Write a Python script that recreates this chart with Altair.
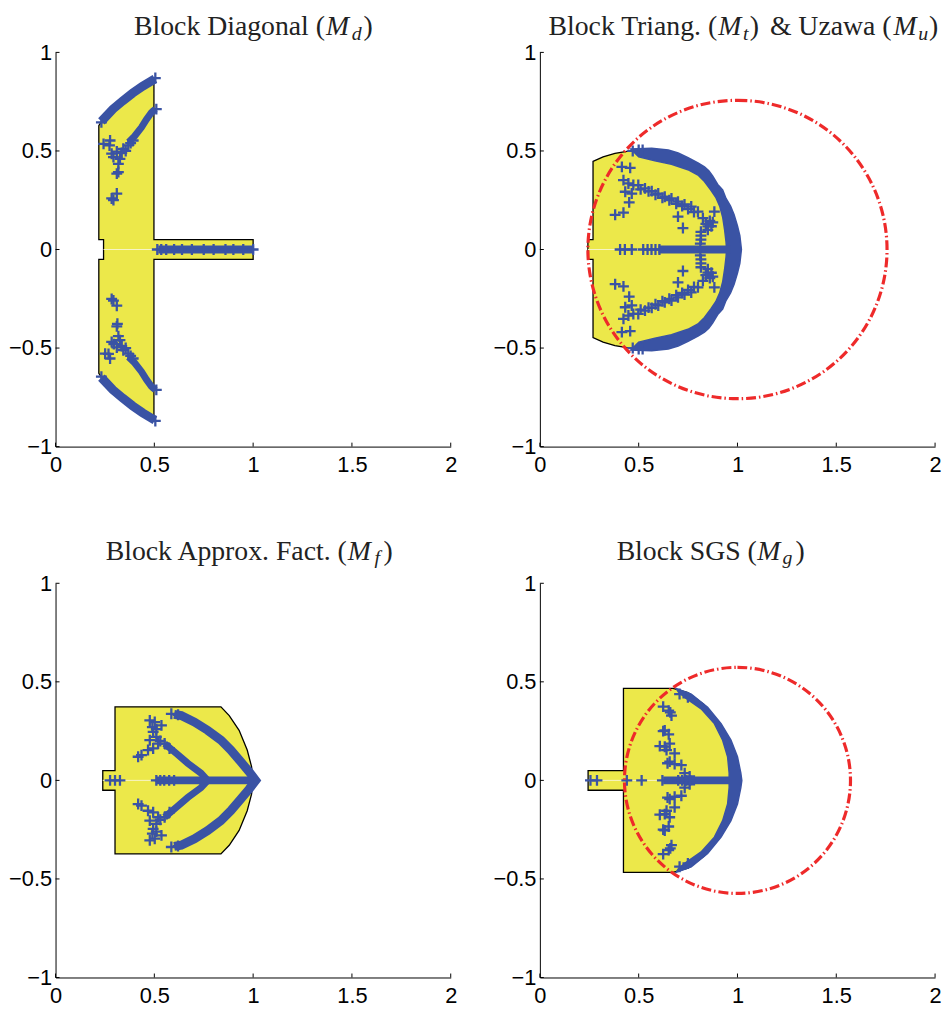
import altair as alt
import pandas as pd

W, H = 399, 398
BLUE = "#3a53a4"
YELLOW = "#ece84a"
RED = "#ee2a2a"
SEAM = "#f7f4c6"
SERIF = "Liberation Serif"
SANS = "Liberation Sans"

X_TICKS = [0, 0.5, 1, 1.5, 2]
Y_TICKS = [-1, -0.5, 0, 0.5, 1]
X_DOMAIN = [0, 2]
Y_DOMAIN = [-1, 1]

# ---------------- Block Diagonal (M_d) ----------------
md_region_x = [0.219, 0.24, 0.29, 0.34, 0.39, 0.44, 0.498, 0.498, 1.0, 1.0, 0.498, 0.498,
               0.44, 0.39, 0.34, 0.29, 0.24, 0.219, 0.219, 0.243, 0.243, 0.219]
md_region_y = [0.628, 0.66, 0.712, 0.754, 0.793, 0.828, 0.868, 0.05, 0.05, -0.05, -0.05, -0.868,
               -0.828, -0.793, -0.754, -0.712, -0.66, -0.628, -0.05, -0.05, 0.05, 0.05]
md_outer_up_x = [0.232, 0.29, 0.34, 0.39, 0.44, 0.503]
md_outer_up_y = [0.650, 0.712, 0.754, 0.793, 0.828, 0.866]
md_outer_lo_x = [0.232, 0.29, 0.34, 0.39, 0.44, 0.503]
md_outer_lo_y = [-0.650, -0.712, -0.754, -0.793, -0.828, -0.866]
md_inner_up_x = [0.37, 0.40, 0.435, 0.46, 0.485, 0.505]
md_inner_up_y = [0.545, 0.575, 0.62, 0.66, 0.695, 0.712]
md_inner_lo_x = [0.37, 0.40, 0.435, 0.46, 0.485, 0.505]
md_inner_lo_y = [-0.545, -0.575, -0.62, -0.66, -0.695, -0.712]
md_axis_x = [0.52, 1.005]
md_pts_x = [0.232, 0.243, 0.276, 0.273, 0.284, 0.31, 0.293, 0.326, 0.318, 0.318, 0.31, 0.31, 0.284,
            0.293, 0.343, 0.368, 0.38, 0.393, 0.335, 0.355, 0.505, 0.51,
            0.232, 0.251, 0.276, 0.268, 0.284, 0.31, 0.295, 0.326, 0.318, 0.313, 0.31, 0.31, 0.284,
            0.293, 0.343, 0.368, 0.38, 0.393, 0.335, 0.355, 0.505, 0.51,
            0.515, 0.535, 0.56, 0.6, 0.64, 0.69, 0.75, 0.8, 0.86, 0.9, 0.95, 1.0]
md_pts_y = [0.645, 0.536, 0.553, 0.528, 0.486, 0.497, 0.469, 0.46, 0.435, 0.393, 0.385, 0.284, 0.259,
            0.251, 0.511, 0.528, 0.54, 0.553, 0.49, 0.50, 0.87, 0.712,
            -0.645, -0.528, -0.553, -0.53, -0.469, -0.497, -0.48, -0.46, -0.44, -0.377, -0.39, -0.285,
            -0.251, -0.259, -0.511, -0.528, -0.54, -0.553, -0.49, -0.50, -0.87, -0.712,
            0, 0, 0, 0, 0, 0, 0, 0, 0, 0, 0, 0]
md_seam_x = [0.243, 0.52]

# ---------------- Block Triang. (M_t) & Uzawa (M_u) ----------------
mt_region_x = [0.269, 0.32, 0.38, 0.44, 0.50, 0.60, 0.70, 0.80, 0.88, 0.93, 0.96, 0.98, 0.985,
               0.98, 0.96, 0.93, 0.88, 0.80, 0.70, 0.60, 0.50, 0.44, 0.38, 0.32, 0.269,
               0.269, 0.243, 0.243, 0.269]
mt_region_y = [0.447, 0.47, 0.488, 0.498, 0.505, 0.49, 0.46, 0.41, 0.33, 0.24, 0.14, 0.05, 0.0,
               -0.05, -0.14, -0.24, -0.33, -0.41, -0.46, -0.49, -0.505, -0.498, -0.488, -0.47, -0.447,
               -0.05, -0.05, 0.05, 0.05]
mt_band_x = [0.46, 0.566, 0.65, 0.70, 0.75, 0.80, 0.833, 0.855, 0.875, 0.90, 0.925, 0.942, 0.965,
             0.983, 1.0, 1.012, 1.02,
             1.012, 1.0, 0.983, 0.965, 0.942, 0.925, 0.90, 0.875, 0.855, 0.833, 0.80, 0.75, 0.70,
             0.65, 0.566, 0.46,
             0.50, 0.582, 0.666, 0.749, 0.80, 0.833, 0.866, 0.89, 0.91, 0.925, 0.935, 0.942, 0.945,
             0.942, 0.935, 0.925, 0.91, 0.89, 0.866, 0.833, 0.80, 0.749, 0.666, 0.582, 0.50]
mt_band_y = [0.51, 0.514, 0.505, 0.49, 0.466, 0.44, 0.419, 0.40, 0.372, 0.33, 0.302, 0.259, 0.22,
             0.176, 0.12, 0.07, 0.0,
             -0.07, -0.12, -0.176, -0.22, -0.259, -0.302, -0.33, -0.372, -0.40, -0.419, -0.44, -0.466,
             -0.49, -0.505, -0.514, -0.51,
             -0.47, -0.45, -0.432, -0.405, -0.378, -0.345, -0.30, -0.265, -0.22, -0.165, -0.10,
             -0.04, 0.0,
             0.04, 0.10, 0.165, 0.22, 0.265, 0.30, 0.345, 0.378, 0.405, 0.432, 0.45, 0.47]
mt_axis_x = [0.60, 0.965]
mt_pts_x = [0.415, 0.457, 0.423, 0.448, 0.473, 0.432, 0.465, 0.452, 0.381, 0.423, 0.699, 0.724,
            0.498, 0.532, 0.566, 0.599, 0.632, 0.666, 0.699, 0.732, 0.766, 0.80, 0.825, 0.85,
            0.51, 0.55, 0.585, 0.62, 0.655, 0.69, 0.72, 0.75, 0.78,
            0.84, 0.86, 0.875, 0.868, 0.85, 0.815, 0.815, 0.815, 0.812, 0.883, 0.47, 0.50, 0.52,
            0.415, 0.457, 0.423, 0.448, 0.473, 0.432, 0.465, 0.452, 0.381, 0.423, 0.699, 0.724,
            0.498, 0.532, 0.566, 0.599, 0.632, 0.666, 0.699, 0.732, 0.766, 0.80, 0.825, 0.85,
            0.51, 0.55, 0.585, 0.62, 0.655, 0.69, 0.72, 0.75, 0.78,
            0.84, 0.86, 0.875, 0.868, 0.85, 0.815, 0.815, 0.815, 0.812, 0.883, 0.47, 0.50, 0.52,
            0.406, 0.43, 0.465, 0.523, 0.545, 0.565, 0.585, 0.605]
mt_pts_y = [0.419, 0.414, 0.352, 0.335, 0.327, 0.293, 0.284, 0.239, 0.176, 0.187, 0.167, 0.109,
            0.327, 0.31, 0.296, 0.284, 0.268, 0.259, 0.243, 0.229, 0.218, 0.192, 0.159, 0.117,
            0.305, 0.295, 0.278, 0.262, 0.25, 0.232, 0.22, 0.205, 0.19,
            0.13, 0.145, 0.138, 0.118, 0.10, 0.09, 0.07, 0.05, 0.03, 0.192, 0.50, 0.505, 0.505,
            -0.419, -0.414, -0.352, -0.335, -0.327, -0.293, -0.284, -0.239, -0.176, -0.187, -0.167,
            -0.109,
            -0.327, -0.31, -0.296, -0.284, -0.268, -0.259, -0.243, -0.229, -0.218, -0.192, -0.159,
            -0.117,
            -0.305, -0.295, -0.278, -0.262, -0.25, -0.232, -0.22, -0.205, -0.19,
            -0.13, -0.145, -0.138, -0.118, -0.10, -0.09, -0.07, -0.05, -0.03, -0.192, -0.50, -0.505,
            -0.505,
            0, 0, 0, 0, 0, 0, 0, 0]
mt_seam_x = [0.243, 0.60]
mt_circle = [1.0, 0.0, 0.755]   # centre x, centre y, radius

# ---------------- Block Approx. Fact. (M_f) ----------------
mf_region_x = [0.301, 0.837, 0.879, 0.929, 0.97, 0.992, 1.0, 0.992, 0.97, 0.929, 0.879, 0.837,
               0.301, 0.301, 0.239, 0.239, 0.301]
mf_region_y = [0.373, 0.373, 0.329, 0.254, 0.154, 0.07, 0.0, -0.07, -0.154, -0.254, -0.329, -0.373,
               -0.373, -0.05, -0.05, 0.05, 0.05]
mf_outer_x = [0.60, 0.636, 0.703, 0.77, 0.837, 0.887, 0.937, 0.979, 1.013,
              0.979, 0.937, 0.887, 0.837, 0.77, 0.703, 0.636, 0.60]
mf_outer_y = [0.335, 0.329, 0.296, 0.254, 0.204, 0.154, 0.095, 0.045, 0.0,
              -0.045, -0.095, -0.154, -0.204, -0.254, -0.296, -0.329, -0.335]
mf_inner_x = [0.552, 0.611, 0.669, 0.736, 0.77, 0.736, 0.669, 0.611, 0.552]
mf_inner_y = [0.187, 0.137, 0.087, 0.037, 0.0, -0.037, -0.087, -0.137, -0.187]
mf_axis_x = [0.51, 1.0]
mf_pts_x = [0.586, 0.62, 0.477, 0.502, 0.536, 0.494, 0.477, 0.51, 0.519, 0.418, 0.435, 0.468, 0.494,
            0.552, 0.577, 0.53, 0.49, 0.51,
            0.586, 0.62, 0.477, 0.502, 0.536, 0.494, 0.477, 0.51, 0.519, 0.418, 0.435, 0.468, 0.494,
            0.552, 0.577, 0.53, 0.49, 0.51,
            0.276, 0.301, 0.326, 0.51, 0.53, 0.55, 0.575, 0.6]
mf_pts_y = [0.338, 0.333, 0.304, 0.296, 0.279, 0.246, 0.204, 0.221, 0.187, 0.12, 0.128, 0.154, 0.162,
            0.187, 0.162, 0.2, 0.27, 0.26,
            -0.338, -0.333, -0.304, -0.296, -0.279, -0.246, -0.204, -0.221, -0.187, -0.12, -0.128,
            -0.154, -0.162, -0.187, -0.162, -0.2, -0.27, -0.26,
            0, 0, 0, 0, 0, 0, 0, 0]
mf_seam_x = [0.239, 0.51]

# ---------------- Block SGS (M_g) ----------------
mg_region_x = [0.423, 0.674, 0.75, 0.83, 0.895, 0.945, 0.98, 0.99, 0.98, 0.945, 0.895, 0.83, 0.75,
               0.674, 0.423, 0.423, 0.244, 0.244, 0.423]
mg_region_y = [0.467, 0.467, 0.445, 0.385, 0.30, 0.21, 0.11, 0.0, -0.11, -0.21, -0.30, -0.385,
               -0.445, -0.467, -0.467, -0.05, -0.05, 0.05, 0.05]
mg_band_x = [0.69, 0.766, 0.849, 0.917, 0.967, 1.0, 1.017, 1.022,
             1.017, 1.0, 0.967, 0.917, 0.849, 0.766, 0.69,
             0.70, 0.733, 0.816, 0.883, 0.925, 0.95, 0.958, 0.958,
             0.958, 0.95, 0.925, 0.883, 0.816, 0.733, 0.70]
mg_band_y = [0.466, 0.438, 0.371, 0.288, 0.204, 0.12, 0.037, 0.0,
             -0.037, -0.12, -0.204, -0.288, -0.371, -0.438, -0.466,
             -0.45, -0.421, -0.363, -0.288, -0.204, -0.12, -0.037, 0.0,
             0.037, 0.12, 0.204, 0.288, 0.363, 0.421, 0.45]
mg_axis_x = [0.624, 0.96]
mg_pts_x = [0.624, 0.652, 0.666, 0.66, 0.632, 0.652, 0.624, 0.607, 0.641, 0.682, 0.632, 0.657,
            0.646, 0.682, 0.716, 0.657, 0.733, 0.758, 0.707, 0.749,
            0.624, 0.652, 0.666, 0.66, 0.632, 0.652, 0.624, 0.607, 0.641, 0.682, 0.632, 0.657,
            0.646, 0.682, 0.716, 0.657, 0.733, 0.758, 0.707, 0.749,
            0.256, 0.289, 0.44, 0.515, 0.62, 0.70, 0.72, 0.74, 0.76]
mg_pts_y = [0.374, 0.354, 0.329, 0.345, 0.254, 0.234, 0.25, 0.174, 0.154, 0.137, 0.171, 0.187,
            0.087, 0.083, 0.078, 0.095, 0.037, 0.02, 0.438, 0.421,
            -0.374, -0.354, -0.329, -0.345, -0.254, -0.234, -0.25, -0.174, -0.154, -0.137, -0.171,
            -0.187, -0.087, -0.083, -0.078, -0.095, -0.037, -0.02, -0.438, -0.421,
            0, 0, 0, 0, 0, 0, 0, 0, 0]
mg_seam_x = [0.244, 0.62]
mg_circle = [1.0, 0.0, 0.572]

# ---------------- helpers ----------------
xs = alt.Scale(domain=X_DOMAIN, nice=False, zero=False)
ys = alt.Scale(domain=Y_DOMAIN, nice=False, zero=False)

common_axis = dict(format="~g", ticks=False, grid=False, domainColor="black", domainWidth=1,
                   labelFont=SANS, labelFontSize=22, labelColor="black", labelFlush=False,
                   labelOverlap=False, title=None)
x_axis = alt.Axis(values=X_TICKS, labelPadding=8, **common_axis)
y_axis = alt.Axis(values=Y_TICKS, labelPadding=4, **common_axis)


def X():
    return alt.X("x:Q", scale=xs, axis=x_axis)


def Y():
    return alt.Y("y:Q", scale=ys, axis=y_axis)


def path_df(xv, yv, seg=0):
    return pd.DataFrame({"x": xv, "y": yv, "i": list(range(len(xv))), "seg": seg})


def segs_df(segments):
    return pd.concat([path_df(a, b, k) for k, (a, b) in enumerate(segments)], ignore_index=True)


def title_layers(pieces, base_y):
    out = []
    for text, px, align, style in pieces:
        kw = dict(text=text, align=align, baseline="alphabetic", font=SERIF, color="#222222")
        yy = base_y
        if style == "roman":
            kw.update(fontSize=28)
        elif style == "italic":
            kw.update(fontSize=28, fontStyle="italic")
        else:
            kw.update(fontSize=20, fontStyle="italic")
            yy = base_y + 5
        out.append(alt.Chart(pd.DataFrame({"k": [0]})).mark_text(**kw).encode(
            x=alt.value(px), y=alt.value(yy)))
    return out


def panel(region, thick=None, thin=None, crescent=None, axis_band=None, pts=None,
          circle=None, seam=None, title=None, title_y=-22):
    layers = [
        alt.Chart(path_df(*region)).mark_line(
            interpolate="linear-closed", fill=YELLOW, stroke="black", strokeWidth=1.3
        ).encode(x=X(), y=Y(), order="i:Q")
    ]
    if seam:
        layers.append(alt.Chart(pd.DataFrame({"x": [seam[0]], "x2": [seam[1]], "y": [0.0]})).mark_rule(
            color=SEAM, strokeWidth=1).encode(x=X(), x2="x2:Q", y=Y()))
    if crescent:
        layers.append(alt.Chart(path_df(*crescent)).mark_line(
            interpolate="linear-closed", fill=BLUE, stroke=BLUE, strokeWidth=1.5
        ).encode(x=X(), y=Y(), order="i:Q"))
    if thick:
        layers.append(alt.Chart(segs_df(thick)).mark_line(
            color=BLUE, strokeWidth=9).encode(x=X(), y=Y(), detail="seg:N", order="i:Q"))
    if thin:
        layers.append(alt.Chart(segs_df(thin)).mark_line(
            color=BLUE, strokeWidth=7).encode(x=X(), y=Y(), detail="seg:N", order="i:Q"))
    if axis_band:
        layers.append(alt.Chart(pd.DataFrame({"x": [axis_band[0]], "x2": [axis_band[1]], "y": [0.0]}))
                      .mark_rule(color=BLUE, strokeWidth=8).encode(x=X(), x2="x2:Q", y=Y()))
    if pts:
        layers.append(alt.Chart(pd.DataFrame({"x": pts[0], "y": pts[1]})).mark_point(
            shape="M-1,0L1,0M0,-1L0,1", size=121, filled=False, color=BLUE, strokeWidth=2.3,
            opacity=1).encode(x=X(), y=Y()))
    if circle:
        layers.append(alt.Chart(pd.DataFrame({"x": [circle[0]], "y": [circle[1]], "r": [circle[2]]}))
                      .mark_arc(theta=0, theta2=6.2832, filled=False, stroke=RED, strokeWidth=3.2,
                                strokeDash=[10, 3, 1.5, 3])
                      .encode(x=X(), y=Y(),
                              radius=alt.Radius("r:Q", scale=alt.Scale(type="linear", domain=[0, 2],
                                                                       range=[0, W], zero=True))))
    layers.append(alt.Chart(pd.DataFrame({"x": X_TICKS})).mark_rule(color="black", strokeWidth=1)
                  .encode(x=X(), y=alt.value(H), y2=alt.value(H - 4)))
    layers.append(alt.Chart(pd.DataFrame({"y": Y_TICKS})).mark_rule(color="black", strokeWidth=1)
                  .encode(y=Y(), x=alt.value(0), x2=alt.value(4)))
    layers += title_layers(title, title_y)
    return alt.layer(*layers).properties(width=W, height=H)


p_d = panel((md_region_x, md_region_y),
            thick=[(md_outer_up_x, md_outer_up_y), (md_outer_lo_x, md_outer_lo_y)],
            thin=[(md_inner_up_x, md_inner_up_y), (md_inner_lo_x, md_inner_lo_y)],
            axis_band=md_axis_x, pts=(md_pts_x, md_pts_y), seam=md_seam_x,
            title=[("Block Diagonal (", 272, "right", "roman"), ("M", 273, "left", "italic"),
                   ("d", 299, "left", "sub"), (")", 311, "left", "roman")],
            title_y=-17.5)

p_t = panel((mt_region_x, mt_region_y), crescent=(mt_band_x, mt_band_y),
            axis_band=mt_axis_x, pts=(mt_pts_x, mt_pts_y), circle=mt_circle, seam=mt_seam_x,
            title=[("Block Triang. (", 179, "right", "roman"), ("M", 180, "left", "italic"),
                   ("t", 205, "left", "sub"), (")", 212, "left", "roman"),
                   ("& Uzawa (", 355, "right", "roman"), ("M", 357, "left", "italic"),
                   ("u", 382, "left", "sub"), (")", 393, "left", "roman")],
            title_y=-17.5)

p_f = panel((mf_region_x, mf_region_y),
            thick=[(mf_outer_x, mf_outer_y)], thin=[(mf_inner_x, mf_inner_y)],
            axis_band=mf_axis_x, pts=(mf_pts_x, mf_pts_y), seam=mf_seam_x,
            title=[("Block Approx. Fact. (", 294, "right", "roman"), ("M", 295, "left", "italic"),
                   ("f", 322, "left", "sub"), (")", 331, "left", "roman")],
            title_y=-24)

p_g = panel((mg_region_x, mg_region_y), crescent=(mg_band_x, mg_band_y),
            axis_band=mg_axis_x, pts=(mg_pts_x, mg_pts_y), circle=mg_circle, seam=mg_seam_x,
            title=[("Block SGS (", 219, "right", "roman"), ("M", 219.5, "left", "italic"),
                   ("g", 245, "left", "sub"), (")", 258, "left", "roman")],
            title_y=-24)

chart = alt.concat(p_d, p_t, p_f, p_g, columns=2, spacing={"row": 138, "column": 90},
                   bounds="flush").properties(
    padding={"left": 0, "top": 0, "right": 0, "bottom": 0},
    background="white",
).configure_view(strokeWidth=0)

chart.save("out.html", embed_options={"renderer": "svg", "actions": False})
